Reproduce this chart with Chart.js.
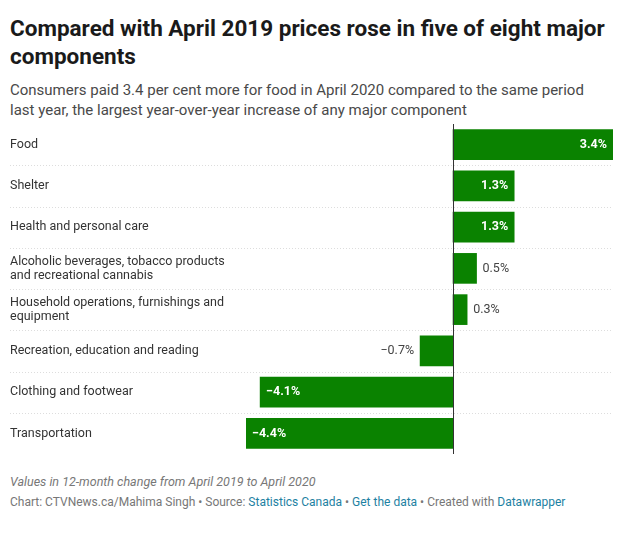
<!DOCTYPE html>
<html lang="en">
<head>
<meta charset="UTF-8">
<title>CPI components</title>
<script src="https://cdn.jsdelivr.net/npm/chart.js"></script>
<style>
    body { margin: 0; background: #fff; font-family: Roboto, Arial, sans-serif; }
    .wrap { width: 629px; padding: 0; }
    h1 { font-size: 22.5px; font-weight: 700; color: #1a1a1a; margin: 0; padding: 14px 20px 0 10px; line-height: 28px; }
    .sub { font-size: 15px; color: #494949; margin: 10px 25px 0 10px; line-height: 20px; }
    .box { position: relative; width: 609px; height: 330px; margin: 4px 0 0 10px; }
    .note { font-size: 12.5px; font-style: italic; color: #777; margin: 20px 10px 0 10px; }
    .foot { font-size: 12px; color: #777; margin: 6px 10px 0 10px; }
    .foot a { color: #1d81a2; text-decoration: none; }
</style>
</head>
<body>
<div class="wrap">
    <h1>Compared with April 2019 prices rose in five of eight major components</h1>
    <div class="sub">Consumers paid 3.4 per cent more for food in April 2020 compared to the same period last year, the largest year-over-year increase of any major component</div>
    <div class="box"><canvas id="chart"></canvas></div>
    <div class="note">Values in 12-month change from April 2019 to April 2020</div>
    <div class="foot">Chart: CTVNews.ca/Mahima Singh • Source: <a href="#">Statistics Canada</a> • <a href="#">Get the data</a> • Created with <a href="#">Datawrapper</a></div>
</div>
<script>
    // data
    const categories = [
        ['Food'],
        ['Shelter'],
        ['Health and personal care'],
        ['Alcoholic beverages, tobacco products', 'and recreational cannabis'],
        ['Household operations, furnishings and', 'equipment'],
        ['Recreation, education and reading'],
        ['Clothing and footwear'],
        ['Transportation']
    ];
    const changes = [3.4, 1.3, 1.3, 0.5, 0.3, -0.7, -4.1, -4.4];

    function fmt(v) {
        return (v < 0 ? '\u2212' + Math.abs(v).toFixed(1) : v.toFixed(1)) + '%';
    }

    // draws row labels, separators, zero line and value labels
    const decor = {
        id: 'decor',
        afterDatasetsDraw(chart) {
            const ctx = chart.ctx;
            const y = chart.scales.y, x = chart.scales.x;
            const meta = chart.getDatasetMeta(0);
            const rowH = (chart.chartArea.bottom - chart.chartArea.top) / categories.length;
            ctx.save();
            // separators
            ctx.strokeStyle = '#dddddd';
            ctx.setLineDash([1, 2]);
            ctx.lineWidth = 1;
            for (let i = 1; i < categories.length; i++) {
                const yy = Math.round(chart.chartArea.top + i * rowH) + 0.5;
                ctx.beginPath(); ctx.moveTo(0, yy); ctx.lineTo(chart.chartArea.right, yy); ctx.stroke();
            }
            ctx.setLineDash([]);
            // zero line
            const zx = Math.round(x.getPixelForValue(0)) + 0.5;
            ctx.strokeStyle = '#333';
            ctx.beginPath(); ctx.moveTo(zx, chart.chartArea.top); ctx.lineTo(zx, chart.chartArea.bottom); ctx.stroke();
            // category labels
            ctx.fillStyle = '#333';
            ctx.font = '12.5px Roboto, Arial, sans-serif';
            ctx.textBaseline = 'middle';
            ctx.textAlign = 'left';
            categories.forEach((lines, i) => {
                const cy = y.getPixelForValue(i);
                lines.forEach((t, j) => {
                    ctx.fillText(t, 0, cy + (j - (lines.length - 1) / 2) * 14);
                });
            });
            // value labels
            changes.forEach((v, i) => {
                const bar = meta.data[i];
                const inside = Math.abs(v) >= 1;
                const txt = fmt(v);
                if (inside) {
                    ctx.font = 'bold 12.5px Roboto, Arial, sans-serif';
                    ctx.fillStyle = '#fff';
                    ctx.textAlign = v > 0 ? 'right' : 'left';
                    ctx.fillText(txt, bar.x + (v > 0 ? -6 : 6), bar.y);
                } else {
                    ctx.font = '12.5px Roboto, Arial, sans-serif';
                    ctx.fillStyle = '#444';
                    ctx.textAlign = v > 0 ? 'left' : 'right';
                    ctx.fillText(txt, bar.x + (v > 0 ? 6 : -6), bar.y);
                }
            });
            ctx.restore();
        }
    };

    new Chart(document.getElementById('chart'), {
        type: 'bar',
        data: {
            labels: categories.map(c => c.join(' ')),
            datasets: [{
                data: changes,
                backgroundColor: '#0a8200',
                barThickness: 30
            }]
        },
        options: {
            indexAxis: 'y',
            responsive: true,
            maintainAspectRatio: false,
            animation: false,
            layout: { padding: { left: 236, right: 6, top: 0, bottom: 0 } },
            plugins: { legend: { display: false }, tooltip: { enabled: false } },
            scales: {
                x: { min: -4.4, max: 3.4, display: false },
                y: { display: false }
            }
        },
        plugins: [decor]
    });
</script>
</body>
</html>
